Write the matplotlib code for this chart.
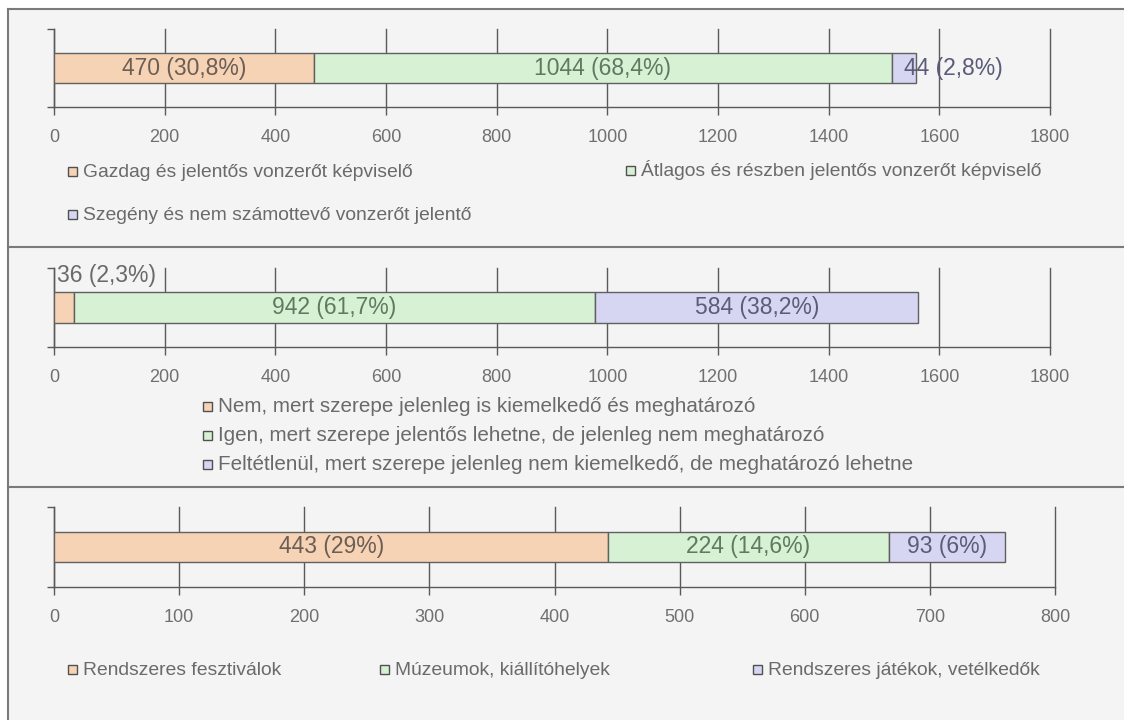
import matplotlib
matplotlib.use('Agg')
import matplotlib.pyplot as plt
from matplotlib.patches import Rectangle
from matplotlib.lines import Line2D

# adatok
attr_names = ['Gazdag és jelentős vonzerőt képviselő',
              'Átlagos és részben jelentős vonzerőt képviselő',
              'Szegény és nem számottevő vonzerőt jelentő']
attr_values = [470, 1044, 44]
attr_labels = ['470 (30,8%)', '1044 (68,4%)', '44 (2,8%)']

dev_names = ['Nem, mert szerepe jelenleg is kiemelkedő és meghatározó',
             'Igen, mert szerepe jelentős lehetne, de jelenleg nem meghatározó',
             'Feltétlenül, mert szerepe jelenleg nem kiemelkedő, de meghatározó lehetne']
dev_values = [36, 942, 584]
dev_labels = ['36 (2,3%)', '942 (61,7%)', '584 (38,2%)']

prog_names = ['Rendszeres fesztiválok', 'Múzeumok, kiállítóhelyek',
              'Rendszeres játékok, vetélkedők']
prog_values = [443, 224, 93]
prog_labels = ['443 (29%)', '224 (14,6%)', '93 (6%)']

colors = ['#f7d3b5', '#d6f1d3', '#d6d6f2']
label_colors = ['#6b5e55', '#5f7a62', '#5c5c7a']
grey = '#5a5a5a'
text_grey = '#6a6a6a'

W, H = 1124, 720
plt.rcParams['font.family'] = ['Liberation Sans', 'DejaVu Sans']

fig = plt.figure(figsize=(W / 100, H / 100), dpi=100)
fig.patch.set_facecolor('white')


def fx(px):
    return px / W


def fy(py):
    return 1 - py / H


# panel hatter es keretek
fig.patches.append(Rectangle((fx(8), 0), 1 - fx(8), fy(9), transform=fig.transFigure,
                             facecolor='#f4f4f4', edgecolor='none', zorder=-5))
for y in [9, 247, 487]:
    fig.lines.append(Line2D([fx(8), 1], [fy(y), fy(y)], transform=fig.transFigure,
                            color='#7a7a7a', lw=1.5, zorder=-4))
fig.lines.append(Line2D([fx(8), fx(8)], [0, fy(9)], transform=fig.transFigure,
                        color='#7a7a7a', lw=1.5, zorder=-4))


def panel(top, axis_y, right, values, labels, xmax, step, small):
    ax = fig.add_axes([fx(54), fy(axis_y), fx(right) - fx(54), (axis_y - top) / H])
    ax.set_facecolor('none')
    left = 0
    for i, v in enumerate(values):
        ax.barh(0.5, v, left=left, height=0.38, color=colors[i], edgecolor='#606060',
                lw=1, zorder=3)
        if v / xmax > 0.05:
            ax.text(left + v / 2, 0.5, labels[i], ha='center', va='center',
                    fontsize=16.5, color=label_colors[i], zorder=4)
        elif small == 'right':
            ax.text(left + v / 2, 0.5, labels[i], ha='left', va='center',
                    fontsize=16.5, color=label_colors[i], zorder=4)
        else:
            ax.text(left + 0.003 * xmax, 0.91, labels[i], ha='left', va='center',
                    fontsize=16.5, color=text_grey, zorder=4)
        left += v
    ax.set_xlim(0, xmax)
    ax.set_ylim(0, 1)
    ax.set_xticks(range(0, xmax + 1, step))
    ax.set_yticks([0, 1])
    ax.set_yticklabels([])
    ax.grid(axis='x', color=grey, lw=1, zorder=1)
    for gl in ax.get_xgridlines():
        gl.set_clip_on(False)
    ax.set_axisbelow(True)
    for s in ['top', 'right']:
        ax.spines[s].set_visible(False)
    for s in ['left', 'bottom']:
        ax.spines[s].set_color(grey)
        ax.spines[s].set_linewidth(1)
    ax.tick_params(axis='x', length=6, width=1, color=grey, pad=10,
                   labelsize=13, labelcolor='#707070')
    ax.tick_params(axis='y', length=5, width=1, color=grey)
    return ax


def legend_item(x, baseline, name, color, size=13.9):
    fig.patches.append(Rectangle((fx(x), fy(baseline - 1)), 9 / W, 9 / H,
                                 transform=fig.transFigure, facecolor=color,
                                 edgecolor='#505050', lw=1, zorder=5))
    fig.text(fx(x + 15), fy(baseline), name, ha='left', va='baseline',
             fontsize=size, color=text_grey)


panel(29, 107, 1050, attr_values, attr_labels, 1800, 200, 'right')
legend_item(68, 177, attr_names[0], colors[0])
legend_item(626, 176, attr_names[1], colors[1])
legend_item(68, 220, attr_names[2], colors[2])

panel(268, 347, 1050, dev_values, dev_labels, 1800, 200, 'above')
for i, name in enumerate(dev_names):
    legend_item(203, 412 + 29 * i, name, colors[i], size=14.9)

panel(507, 587, 1055, prog_values, prog_labels, 800, 100, 'right')
for x, name, c in zip([68, 380, 753], prog_names, colors):
    legend_item(x, 675, name, c)

fig.savefig('out.png', dpi=100)
